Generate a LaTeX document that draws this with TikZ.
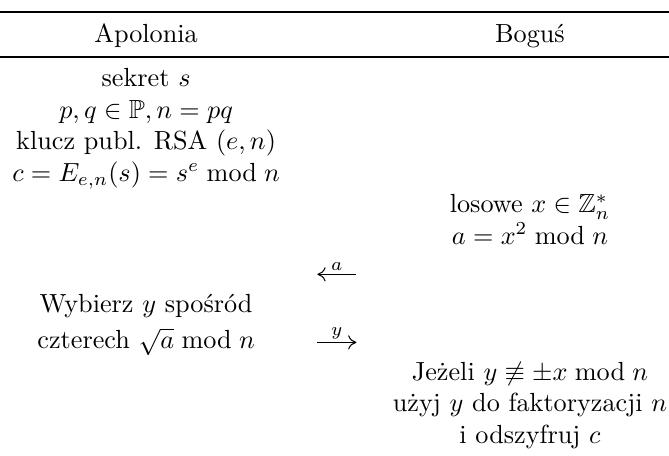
\documentclass[tikz,border=0pt]{standalone}
\usepackage{amsmath,amssymb}
\usetikzlibrary{arrows.meta}
\tikzset{
  party/.style={anchor=base,inner sep=0pt},
  row/.style={anchor=base,inner sep=0pt},
  toprule/.style={line width=0.8pt},
  midrule/.style={line width=0.55pt},
  msg/.style={-{To[length=1.1mm,width=1.9mm]},line width=0.4pt},
  msglabel/.style={font=\scriptsize,inner sep=1.2pt}
}

\begin{document}
\begin{tikzpicture}[x=1cm,y=1cm]
\path[use as bounding box] (0,0) rectangle (8.975,6.104);
\draw[toprule] (0,5.943)--(8.975,5.943);
\node[party] (apo) at (1.96,5.536) {Apolonia};
\node[party] (bog) at (7.11,5.536) {Boguś};
\draw[midrule] (0,5.34)--(8.975,5.34);

% Apolonia
\node[row] (sek) at (1.96,4.937) {sekret $s$};
\node[row] (pq) at (1.96,4.516) {$p,q\in\mathbb{P}, n=pq$};
\node[row] (klucz) at (1.96,4.094) {klucz publ. RSA $(e,n)$};
\node[row] (szyfr) at (1.96,3.672) {$c=E_{e,n}(s)=s^e \bmod n$};

% Bogus
\node[row] (los) at (7.11,3.25) {losowe $x\in\mathbb{Z}_n^*$};
\node[row] (kw) at (7.11,2.829) {$a=x^2 \bmod n$};

\coordinate (a0) at (4.258,2.424);
\coordinate (a1) at (4.781,2.424);
\draw[msg] (a1)--(a0) node[msglabel,midway,above] {$a$};

\node[row] (wyb) at (1.96,1.915) {Wybierz $y$ spośród};
\node[row] (czt) at (1.96,1.423) {czterech $\sqrt{a} \bmod n$};

\coordinate (y0) at (4.258,1.511);
\coordinate (y1) at (4.781,1.511);
\draw[msg] (y0)--(y1) node[msglabel,midway,above] {$y$};

\node[row] (jez) at (7.11,1.001) {Jeżeli $y\not\equiv\pm x \bmod n$};
\node[row] (uzyj) at (7.11,0.579) {użyj $y$ do faktoryzacji $n$};
\node[row] (odsz) at (7.11,0.157) {i odszyfruj $c$};
\end{tikzpicture}
\end{document}
